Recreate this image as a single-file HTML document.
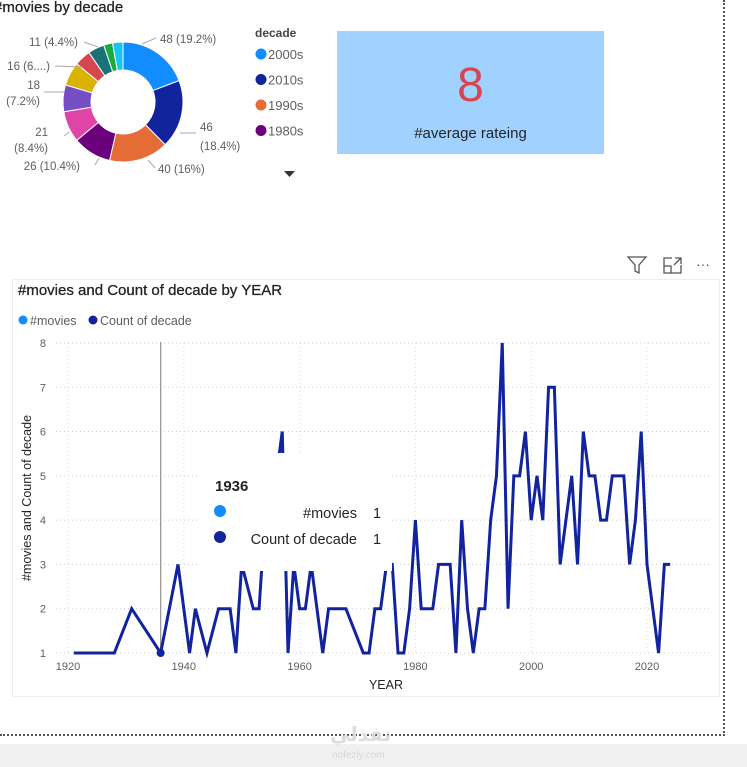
<!DOCTYPE html>
<html><head><meta charset="utf-8"><style>
body{margin:0;width:747px;height:767px;background:#fff;position:relative;overflow:hidden;font-family:"Liberation Sans","DejaVu Sans",sans-serif}
.a{position:absolute}
</style></head><body>
<div class="a" style="left:0;top:744px;width:747px;height:23px;background:#f0f0f0"></div>
<div class="a" style="left:723px;top:0;width:0;height:736px;border-left:2px dotted #555"></div>
<div class="a" style="left:0;top:734px;width:725px;height:0;border-top:2px dotted #555"></div>
<div class="a" style="left:330px;top:722px;color:#ddd;font-size:20px;font-weight:bold;font-family:'DejaVu Sans',sans-serif">نفذلي</div>
<div class="a" style="left:332px;top:750px;color:#d8d8d8;font-size:10px">nofezly.com</div>

<div class="a" style="left:-6px;top:-1px;font-size:15px;color:#252423;-webkit-text-stroke:0.3px #252423">#movies by decade</div>
<svg class="a" style="left:0;top:0" width="330" height="185" id="donut"></svg>

<div class="a" style="left:337px;top:31px;width:267px;height:123px;background:#a0d1ff"></div>
<div class="a" style="left:337px;top:58px;width:267px;text-align:center;font-size:48px;color:#d64550">8</div>
<div class="a" style="left:337px;top:125px;width:267px;text-align:center;font-size:15px;color:#252423">#average rateing</div>

<svg class="a" style="left:626px;top:254px" width="100" height="22">
<path d="M2 3 L20 3 L13 11 L13 19 L9 17 L9 11 Z" fill="none" stroke="#555" stroke-width="1.3"/>
<g fill="none" stroke="#555" stroke-width="1.3"><path d="M46 4 L38 4 L38 19 L55 19 L55 11"/><path d="M38 12 L45 12 L45 19"/><path d="M49 4 L55 4 L55 10 M55 4 L48 11"/></g>
<text x="70" y="15" font-size="14" fill="#555" font-family="Liberation Sans">···</text>
</svg>

<div class="a" style="left:12px;top:279px;width:708px;height:418px;border:1px solid #eee;box-sizing:border-box"></div>
<div class="a" style="left:18px;top:282px;font-size:15px;color:#252423;-webkit-text-stroke:0.3px #252423">#movies and Count of decade by YEAR</div>
<svg class="a" style="left:0;top:300px" width="747" height="400" id="line"></svg>

<script>
var decades=['2000s','2010s','1990s','1980s','1970s','1960s','1950s','1940s','1930s','1920s','2020s'];
var counts=[48,46,40,26,21,18,16,11,11,6,7];
var colors=['#118DFF','#12239E','#E66C37','#6B007B','#E044A7','#744EC2','#D9B300','#D64550','#197278','#1AAB40','#15C6F4'];
var NS='http://www.w3.org/2000/svg';
function mk(p,t,at){var e=document.createElementNS(NS,t);for(var k in at)e.setAttribute(k,at[k]);p.appendChild(e);return e;}
(function(){
var s=document.getElementById('donut'),cx=123,cy=102,R=60,r=32;
var tot=counts.reduce(function(a,b){return a+b},0),a0=0;
for(var i=0;i<counts.length;i++){
 var a1=a0+counts[i]/tot*2*Math.PI;
 function P(rr,a){return [cx+rr*Math.sin(a),cy-rr*Math.cos(a)];}
 var p1=P(R,a0),p2=P(R,a1),p3=P(r,a1),p4=P(r,a0),lg=(a1-a0)>Math.PI?1:0;
 var pa=mk(s,'path',{d:'M'+p1+' A'+R+' '+R+' 0 '+lg+' 1 '+p2+' L'+p3+' A'+r+' '+r+' 0 '+lg+' 0 '+p4+'Z',fill:colors[i],stroke:'#fff','stroke-width':1});
 
 
 a0=a1;
}
var labels=[[160,43,'48 (19.2%)','start'],[200,131,'46','start'],[200,150,'(18.4%)','start'],[158,173,'40 (16%)','start'],[80,170,'26 (10.4%)','end'],[48,136,'21','end'],[48,152,'(8.4%)','end'],[40,89,'18','end'],[40,105,'(7.2%)','end'],[50,70,'16 (6....)','end'],[78,46,'11 (4.4%)','end']];
labels.forEach(function(l){var t=mk(s,'text',{x:l[0],y:l[1],'font-size':11.5,fill:'#605e5c','text-anchor':l[3]});t.textContent=l[2];
});
[[142,44,156,38],[180,133,196,133],[148,160,155,168],[99,158,95,165],[69,132,64,136],[64,92,44,92],[82,67,55,66],[98,47,84,42]].forEach(function(l){mk(s,'polyline',{points:l[0]+','+l[1]+' '+l[2]+','+l[3],stroke:'#aaa',fill:'none'});});
var t=mk(s,'text',{x:255,y:37,'font-size':12,'font-weight':'bold',fill:'#444'});t.textContent='decade';

for(var j=0;j<4;j++){var g=mk(s,'g',{});
 mk(g,'circle',{cx:261,cy:54+j*25.5,r:5.5,fill:colors[j]});var tt=mk(g,'text',{x:268,y:59+j*25.5,'font-size':13,fill:'#605e5c'});tt.textContent=decades[j];}
var ar=mk(s,'path',{d:'M284 171 L295 171 L289.5 177 Z',fill:'#333'});
})();

var years=[1921,1928,1931,1936,1939,1941,1942,1944,1946,1948,1949,1950,1952,1953,1954,1955,1956,1957,1958,1959,1960,1961,1962,1964,1965,1968,1971,1972,1973,1974,1975,1976,1977,1978,1979,1980,1981,1983,1984,1986,1987,1988,1989,1990,1991,1992,1993,1994,1995,1996,1997,1998,1999,2000,2001,2002,2003,2004,2005,2006,2007,2008,2009,2010,2011,2012,2013,2014,2015,2016,2017,2018,2019,2020,2021,2022,2023,2024];
var decadeCounts=[1,1,2,1,3,1,2,1,2,2,1,3,2,2,4,5,5,6,1,3,2,2,3,1,2,2,1,1,2,2,3,3,1,1,2,4,2,2,3,3,1,4,2,1,2,2,4,5,8,2,5,5,6,4,5,4,7,7,3,4,5,3,6,5,5,4,4,5,5,5,3,4,6,3,2,1,3,3];
var xTicks=[1920,1940,1960,1980,2000,2020];
var yTicks=[1,2,3,4,5,6,7,8];
(function(){
var s=document.getElementById('line');
function X(y){return 68+(y-1920)*5.79;}
function Y(v){return 353-(v-1)*44.29;}
var lg=mk(s,'g',{});
mk(lg,'circle',{cx:23,cy:20,r:4.5,fill:'#118DFF'});var t1=mk(lg,'text',{x:30,y:25,'font-size':12.5,fill:'#605e5c'});t1.textContent='#movies';
mk(lg,'circle',{cx:93,cy:20,r:4.5,fill:'#12239E'});var t2=mk(lg,'text',{x:100,y:25,'font-size':12.5,fill:'#605e5c'});t2.textContent='Count of decade';
yTicks.forEach(function(v){mk(s,'line',{x1:56,x2:712,y1:Y(v),y2:Y(v),stroke:'#ccc','stroke-dasharray':'1 3'});
 var t=mk(s,'text',{x:46,y:Y(v)+4,'font-size':11,fill:'#605e5c','text-anchor':'end'});t.textContent=v;
 });
xTicks.forEach(function(v){mk(s,'line',{x1:X(v),x2:X(v),y1:Y(8),y2:Y(1),stroke:'#ddd','stroke-dasharray':'1 3'});
 var t=mk(s,'text',{x:X(v),y:Y(1)+17,'font-size':11,fill:'#605e5c','text-anchor':'middle'});t.textContent=v;
 });
var xt=mk(s,'text',{x:386,y:389,'font-size':12.5,fill:'#252423','text-anchor':'middle'});xt.textContent='YEAR';

var yt=mk(s,'text',{x:0,y:0,'font-size':12.5,fill:'#252423','text-anchor':'middle',transform:'translate(31,198) rotate(-90)'});yt.textContent='#movies and Count of decade';

mk(s,'line',{x1:X(1936),x2:X(1936),y1:42,y2:Y(1),stroke:'#999','stroke-width':1.3});
var pts=years.map(function(y,i){return X(y)+','+Y(decadeCounts[i]);}).join(' ');
var pl=mk(s,'polyline',{points:pts,fill:'none',stroke:'#12239E','stroke-width':3,'stroke-linejoin':'miter'});

var hi=mk(s,'circle',{cx:X(1936),cy:Y(1),r:4,fill:'#12239E'});
var tip=mk(s,'g',{});
mk(tip,'rect',{x:197,y:153,width:195,height:118,fill:'#fff'});
var a=mk(tip,'text',{x:215,y:191,'font-size':15,'font-weight':'bold',fill:'#252423'});a.textContent='1936';
mk(tip,'circle',{cx:220,cy:211,r:6,fill:'#118DFF'});
var b=mk(tip,'text',{x:357,y:218,'font-size':14.5,fill:'#252423','text-anchor':'end'});b.textContent='#movies';
var c=mk(tip,'text',{x:373,y:218,'font-size':14.5,fill:'#252423'});c.textContent='1';
mk(tip,'circle',{cx:220,cy:237,r:6,fill:'#12239E'});
var d=mk(tip,'text',{x:357,y:244,'font-size':14.5,fill:'#252423','text-anchor':'end'});d.textContent='Count of decade';
var e=mk(tip,'text',{x:373,y:244,'font-size':14.5,fill:'#252423'});e.textContent='1';
})();
</script>
</body></html>
